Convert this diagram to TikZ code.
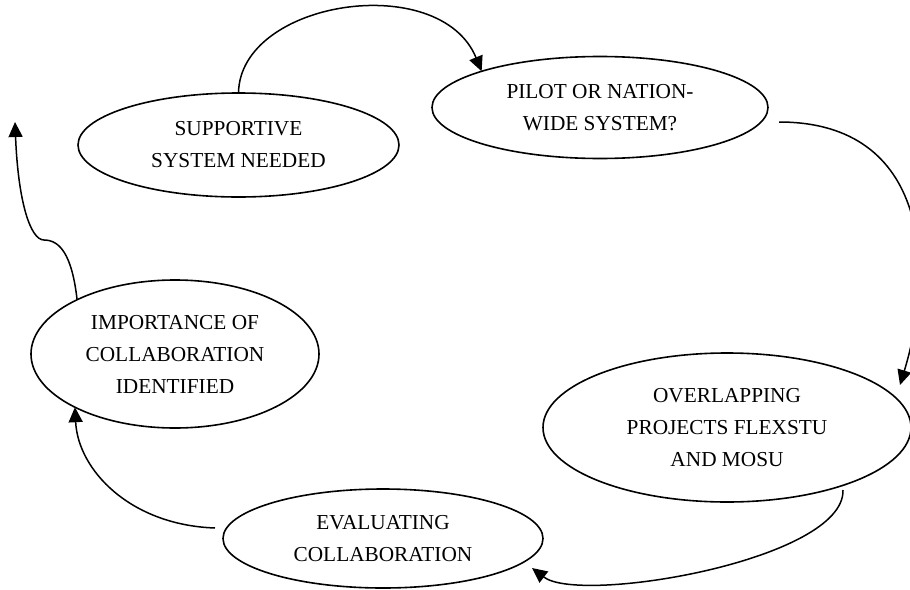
\documentclass[tikz,border=0pt]{standalone}
\usepackage{fontspec}
\setmainfont{Liberation Serif}
\usetikzlibrary{arrows.meta,shapes.geometric,calc}
\begin{document}
\begin{tikzpicture}[x=1pt,y=-1pt,
  stage/.style={ellipse,draw,line width=1.6pt,inner sep=0pt,outer sep=0pt,
    align=center,font=\fontsize{21.3}{32}\selectfont},
  flow/.style={line width=1.5pt,-{Triangle[length=15pt,width=14pt]}}]
\useasboundingbox (0,0) rectangle (910,589);

% the five stages of the cycle
\node[stage,minimum width=321pt,minimum height=104pt] (sup) at (238.5,145) {SUPPORTIVE\\SYSTEM NEEDED};
\node[stage,minimum width=336pt,minimum height=102pt] (pil) at (600,107.5) {PILOT OR NATION-\\WIDE SYSTEM?};
\node[stage,minimum width=368pt,minimum height=149pt] (ove) at (727,427.5) {OVERLAPPING\\PROJECTS FLEXSTU\\AND MOSU};
\node[stage,minimum width=320pt,minimum height=99pt] (eva) at (383,538.5) {EVALUATING\\COLLABORATION};
\node[stage,minimum width=288pt,minimum height=148pt] (imp) at (175,354) {IMPORTANCE OF\\COLLABORATION\\IDENTIFIED};

% open end of the last arrow
\coordinate (up) at (15,122);

% connectors
\draw[flow] (sup.north) .. controls (240,0) and (440,-30) .. (pil.163);
\draw[flow] ($(pil.east)+(11,14.5)$) .. controls (930,122) and (935,270) .. ($(ove.east)+(-11,-42.5)$);
\draw[flow] ($(ove.south)+(116,-12)$) .. controls (845,560) and (580,605) .. ($(eva.east)+(-11,29.5)$);
\draw[flow] ($(eva.west)+(-8,-10.5)$) .. controls (130,525) and (78,470) .. (imp.208);
\draw[flow] (imp.151) .. controls (72,255) and (60,240) .. (44,240)
  .. controls (30,240) and (18,200) .. (up);
\end{tikzpicture}
\end{document}
